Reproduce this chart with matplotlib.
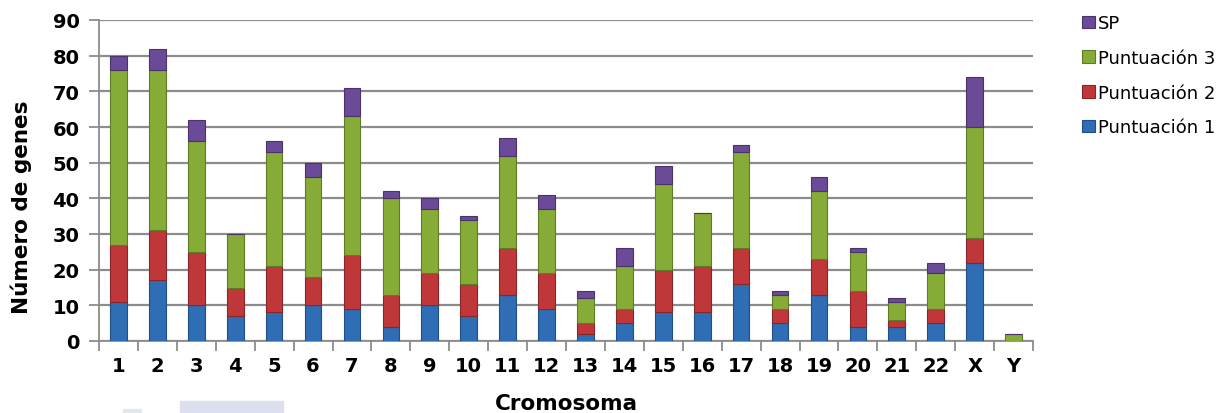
import matplotlib
matplotlib.use("Agg")
import matplotlib.pyplot as plt
import numpy as np
from matplotlib.patches import Rectangle

categories = ["1", "2", "3", "4", "5", "6", "7", "8", "9", "10", "11", "12",
              "13", "14", "15", "16", "17", "18", "19", "20", "21", "22", "X", "Y"]
puntuacion1 = [11, 17, 10, 7, 8, 10, 9, 4, 10, 7, 13, 9, 2, 5, 8, 8, 16, 5, 13, 4, 4, 5, 22, 0]
puntuacion2 = [16, 14, 15, 8, 13, 8, 15, 9, 9, 9, 13, 10, 3, 4, 12, 13, 10, 4, 10, 10, 2, 4, 7, 0]
puntuacion3 = [49, 45, 31, 15, 32, 28, 39, 27, 18, 18, 26, 18, 7, 12, 24, 15, 27, 4, 19, 11, 5, 10, 31, 2]
sp = [4, 6, 6, 0, 3, 4, 8, 2, 3, 1, 5, 4, 2, 5, 5, 0, 2, 1, 4, 1, 1, 3, 14, 0]

series = [
    ("Puntuación 1", puntuacion1, "#2F6DB5", "#1F4F86"),
    ("Puntuación 2", puntuacion2, "#C0373A", "#8A2527"),
    ("Puntuación 3", puntuacion3, "#86AC37", "#5E7B25"),
    ("SP", sp, "#6B4A98", "#4A326B"),
]

plt.rcParams['font.family'] = ['DejaVu Sans']
fig = plt.figure(figsize=(12.26, 4.14), dpi=100)
ax = fig.add_axes([99 / 1226, 1 - 342 / 414, (1033 - 99) / 1226, (342 - 21) / 414])

x = np.arange(len(categories))
bottom = np.zeros(len(categories))
handles = []
for name, vals, col, edge in series:
    v = np.array(vals, dtype=float)
    b = ax.bar(x, v, width=0.43, bottom=bottom, color=col, edgecolor=edge,
               linewidth=0.8, label=name, zorder=3)
    handles.append(b)
    bottom += v

ax.set_xlim(-0.5, len(categories) - 0.5)
ax.set_ylim(0, 90)
ax.set_yticks(np.arange(0, 91, 10))
ax.yaxis.grid(True, color="#8C8C8C", linewidth=1.6, zorder=0)
ax.set_axisbelow(True)

ax.set_xticks(x)
ax.set_xticklabels(categories, fontsize=14, fontweight="bold")
ax.tick_params(axis="x", which="major", length=0, pad=11)
ax.set_xticks(np.arange(-0.5, len(categories), 1), minor=True)
ax.tick_params(axis="x", which="minor", length=7, width=1.3, color="#8C8C8C")
ax.tick_params(axis="y", length=7, width=1.3, color="#8C8C8C", labelsize=14, pad=7)
for lab in ax.get_yticklabels():
    lab.set_fontweight("bold")

for s in ["top", "right"]:
    ax.spines[s].set_visible(False)
for s in ["left", "bottom"]:
    ax.spines[s].set_color("#8C8C8C")
    ax.spines[s].set_linewidth(1.3)

ax.set_ylabel("Número de genes", fontsize=15.5, fontweight="bold")
ax.yaxis.set_label_coords(-0.072, 0.42)
ax.set_xlabel("Cromosoma", fontsize=15.5, fontweight="bold", labelpad=13)

leg = ax.legend(handles[::-1], [s[0] for s in series][::-1], loc="upper left",
                bbox_to_anchor=(1.045, 1.04), frameon=False, fontsize=13,
                handlelength=0.7, handleheight=0.7, handletextpad=0.15,
                labelspacing=0.92, borderaxespad=0)

# faint watermark at bottom left
fig.patches.append(Rectangle((180 / 1226, 0), 103 / 1226, 12 / 414,
                             transform=fig.transFigure, color="#DCE0EE", zorder=0))
fig.patches.append(Rectangle((123 / 1226, 0), 18 / 1226, 4 / 414,
                             transform=fig.transFigure, color="#E4E6EE", zorder=0))

fig.savefig("out.png", dpi=100)
